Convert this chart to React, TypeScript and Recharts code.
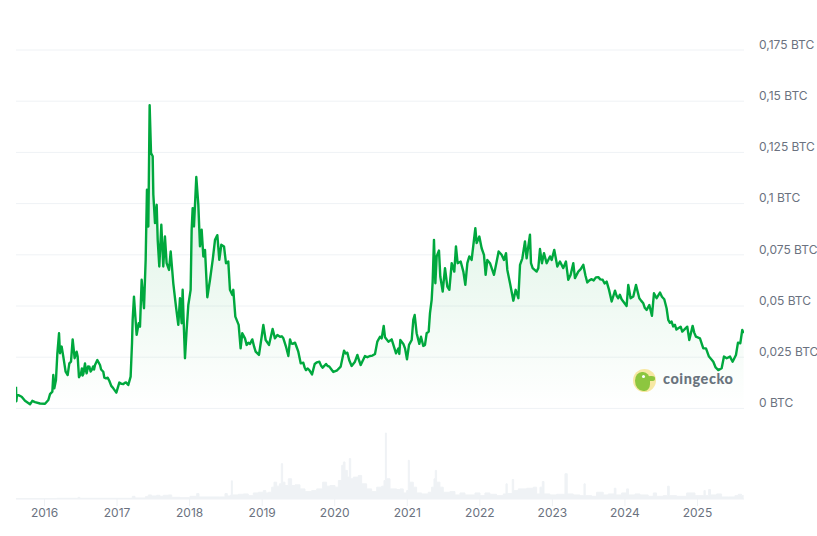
import React from 'react';
import { ComposedChart, AreaChart, Area, XAxis, YAxis, CartesianGrid } from 'recharts';

type P = [number, number];

const price2015to2016: P[] = [[2015.607,.0106],[2015.612,.0035],[2015.62,.0065],[2015.64,.0065],[2015.685,.0057],[2015.731,.0037],[2015.80,.0020],[2015.832,.0037],[2015.869,.0031],[2015.938,.0024],[2016.007,.0023],[2016.053,.0041],[2016.076,.0070],[2016.108,.0082],[2016.121,.0163],[2016.135,.0098],[2016.158,.0139],[2016.177,.0269],[2016.20,.0367],[2016.213,.0269],[2016.236,.0302],[2016.259,.0253],[2016.291,.0179],[2016.319,.0163],[2016.342,.0220],[2016.365,.0228],[2016.388,.0337],[2016.415,.0245],[2016.443,.0277],[2016.457,.0253],[2016.475,.0152],[2016.503,.0171],[2016.515,.0195],[2016.525,.0160],[2016.535,.0168],[2016.558,.0220],[2016.57,.0185],[2016.581,.0171],[2016.60,.0205],[2016.618,.0204],[2016.635,.0180],[2016.65,.0187],[2016.67,.0205],[2016.683,.0190],[2016.696,.0212],[2016.728,.0236],[2016.765,.0212],[2016.78,.0190],[2016.81,.0179],[2016.825,.0150],[2016.847,.0147],[2016.87,.0150],[2016.893,.0135],[2016.92,.0110],[2016.948,.0098],[2016.99,.0077]];
const price2017: P[] = [[2017.031,.0126],[2017.06,.0120],[2017.086,.0119],[2017.105,.0125],[2017.123,.0127],[2017.155,.0114],[2017.187,.0155],[2017.206,.0318],[2017.215,.0432],[2017.233,.0546],[2017.252,.0448],[2017.27,.0359],[2017.298,.0416],[2017.316,.0399],[2017.339,.0628],[2017.371,.0489],[2017.394,.0725],[2017.412,.1068],[2017.431,.0888],[2017.449,.148],[2017.468,.1247],[2017.491,.1231],[2017.50,.1043],[2017.523,.0905],[2017.546,.0994],[2017.56,.0823],[2017.582,.0693],[2017.61,.0897],[2017.637,.0693],[2017.66,.0839],[2017.683,.0709],[2017.716,.0676],[2017.739,.0766],[2017.775,.0611],[2017.812,.0497],[2017.844,.0408],[2017.867,.0538],[2017.89,.0416],[2017.904,.0579],[2017.922,.0383],[2017.936,.0245],[2017.959,.0383],[2017.982,.0505]];
const price2018: P[] = [[2018.014,.0579],[2018.028,.0872],[2018.042,.0978],[2018.06,.0888],[2018.092,.113],[2018.12,.0994],[2018.143,.0791],[2018.166,.0872],[2018.189,.0742],[2018.212,.0774],[2018.244,.0543],[2018.281,.0628],[2018.318,.0725],[2018.35,.0823],[2018.382,.0846],[2018.409,.0725],[2018.437,.0799],[2018.474,.0791],[2018.501,.0709],[2018.533,.0717],[2018.556,.0579],[2018.589,.0554],[2018.602,.0579],[2018.63,.0448],[2018.676,.0408],[2018.703,.0293],[2018.726,.0367],[2018.763,.0342],[2018.786,.031],[2018.81,.0320],[2018.832,.0315],[2018.864,.0337],[2018.89,.0300],[2018.91,.0277],[2018.956,.0261],[2018.993,.035]];
const price2019: P[] = [[2019.016,.0408],[2019.048,.0334],[2019.094,.031],[2019.144,.0388],[2019.176,.0342],[2019.21,.0358],[2019.246,.035],[2019.27,.0352],[2019.292,.0342],[2019.328,.0302],[2019.361,.0256],[2019.384,.0337],[2019.40,.0318],[2019.42,.0315],[2019.453,.0321],[2019.475,.0300],[2019.498,.0277],[2019.531,.022],[2019.567,.0223],[2019.585,.0200],[2019.604,.0187],[2019.625,.0195],[2019.65,.0187],[2019.687,.0166],[2019.724,.0217],[2019.755,.0225],[2019.788,.0228],[2019.81,.0210],[2019.834,.0199],[2019.88,.0217],[2019.90,.0208],[2019.926,.0204],[2019.955,.0190],[2019.981,.0178]];
const price2020: P[] = [[2020.027,.0184],[2020.082,.0204],[2020.128,.0282],[2020.15,.0268],[2020.174,.0272],[2020.20,.0235],[2020.233,.0207],[2020.279,.0228],[2020.312,.0261],[2020.335,.0235],[2020.358,.0212],[2020.417,.0256],[2020.45,.0250],[2020.486,.0256],[2020.52,.0258],[2020.555,.0266],[2020.587,.0326],[2020.624,.035],[2020.647,.0342],[2020.675,.0403],[2020.693,.0347],[2020.739,.0326],[2020.785,.0337],[2020.845,.0269],[2020.877,.0293],[2020.89,.0266],[2020.904,.0334],[2020.946,.0315],[2020.969,.0293],[2020.996,.024]];
const price2021: P[] = [[2021.024,.031],[2021.061,.0334],[2021.083,.0432],[2021.102,.0456],[2021.129,.0367],[2021.166,.0315],[2021.189,.035],[2021.221,.0305],[2021.244,.031],[2021.267,.0367],[2021.295,.0375],[2021.313,.0465],[2021.336,.053],[2021.35,.0619],[2021.368,.0823],[2021.387,.0611],[2021.405,.0742],[2021.437,.0771],[2021.455,.0644],[2021.488,.057],[2021.52,.0685],[2021.552,.0595],[2021.58,.0579],[2021.612,.0709],[2021.648,.0668],[2021.671,.0791],[2021.694,.0709],[2021.736,.0717],[2021.773,.0668],[2021.8,.0603],[2021.828,.0709],[2021.855,.0742],[2021.887,.0725],[2021.938,.088],[2021.956,.0807],[2021.993,.0839]];
const price2022: P[] = [[2022.025,.0782],[2022.057,.075],[2022.08,.0652],[2022.103,.0725],[2022.14,.0709],[2022.195,.0652],[2022.232,.0717],[2022.259,.0766],[2022.3,.075],[2022.333,.0725],[2022.361,.0758],[2022.379,.0676],[2022.416,.0611],[2022.462,.0526],[2022.494,.0579],[2022.531,.0538],[2022.554,.0701],[2022.586,.0733],[2022.622,.0815],[2022.645,.0733],[2022.691,.0848],[2022.705,.0709],[2022.728,.0685],[2022.783,.0668],[2022.806,.0685],[2022.829,.0778],[2022.856,.0709],[2022.884,.0758],[2022.921,.0709],[2022.967,.0742],[2022.99,.0725]];
const price2023: P[] = [[2023.026,.0774],[2023.068,.0693],[2023.104,.0717],[2023.15,.0685],[2023.187,.0717],[2023.219,.0628],[2023.251,.0652],[2023.288,.0709],[2023.311,.0636],[2023.357,.0668],[2023.39,.0680],[2023.426,.0701],[2023.455,.0650],[2023.481,.0615],[2023.51,.0625],[2023.541,.0631],[2023.57,.0625],[2023.60,.0640],[2023.633,.0641],[2023.66,.0630],[2023.693,.0628],[2023.72,.0610],[2023.748,.0619],[2023.78,.0580],[2023.817,.0522],[2023.863,.0575],[2023.885,.0550],[2023.908,.0538],[2023.93,.0555],[2023.954,.0533],[2023.977,.0522]];
const price2024: P[] = [[2024.023,.05],[2024.046,.0603],[2024.078,.0538],[2024.115,.0546],[2024.152,.0603],[2024.198,.0538],[2024.225,.0525],[2024.253,.0513],[2024.275,.0490],[2024.299,.0481],[2024.336,.0505],[2024.372,.0452],[2024.4,.0562],[2024.437,.0538],[2024.483,.0566],[2024.51,.0545],[2024.542,.0533],[2024.574,.0489],[2024.597,.0432],[2024.62,.0418],[2024.643,.0424],[2024.665,.0400],[2024.689,.0408],[2024.71,.0385],[2024.735,.0391],[2024.768,.0399],[2024.79,.0375],[2024.814,.0383],[2024.859,.0399],[2024.887,.0334],[2024.933,.0403],[2024.955,.0370],[2024.979,.035]];
const price2025: P[] = [[2025.034,.0342],[2025.08,.0293],[2025.117,.0293],[2025.158,.0253],[2025.19,.0240],[2025.218,.0228],[2025.25,.0200],[2025.287,.0187],[2025.333,.0196],[2025.365,.0253],[2025.402,.0245],[2025.448,.0253],[2025.484,.0228],[2025.53,.0261],[2025.558,.0321],[2025.59,.0318],[2025.617,.0383],[2025.636,.0367]];

const volumeEarly: P[] = [[2015.607,1],[2016.167,2],[2016.44,2],[2016.463,5],[2016.486,2],[2017.178,2],[2017.21,8],[2017.247,3],[2017.316,3],[2017.39,7],[2017.43,12],[2017.476,9],[2017.546,11],[2017.59,8],[2017.637,11],[2017.706,12],[2017.753,5],[2017.867,4],[2018.005,8],[2018.097,16],[2018.129,6],[2018.281,6],[2018.418,6],[2018.487,16],[2018.519,9],[2018.566,12],[2018.575,54],[2018.589,12],[2018.671,14],[2018.74,15],[2018.809,10],[2018.878,18],[2018.947,20]];
const volumeMiddle: P[] = [[2019.016,25],[2019.05,18],[2019.085,20],[2019.131,35],[2019.163,50],[2019.2,38],[2019.237,45],[2019.264,105],[2019.282,50],[2019.314,40],[2019.36,60],[2019.406,40],[2019.452,42],[2019.521,30],[2019.59,22],[2019.682,25],[2019.751,30],[2019.833,50],[2019.888,38],[2019.934,40],[2020.004,35],[2020.05,55],[2020.096,100],[2020.119,110],[2020.142,85],[2020.174,65],[2020.201,120],[2020.22,60],[2020.256,65],[2020.325,70],[2020.371,45],[2020.44,30],[2020.509,22],[2020.578,35],[2020.647,38],[2020.679,55],[2020.698,196],[2020.712,60],[2020.762,30],[2020.854,28],[2020.899,30],[2020.945,18],[2020.991,25],[2021.014,115],[2021.028,50],[2021.083,35],[2021.129,18],[2021.198,15],[2021.289,20],[2021.335,35],[2021.368,60],[2021.386,85],[2021.404,50],[2021.45,35],[2021.496,20],[2021.588,22],[2021.657,12],[2021.726,18],[2021.795,12],[2021.933,18]];
const volumeLate: P[] = [[2022.002,10],[2022.07,18],[2022.139,14],[2022.231,10],[2022.323,15],[2022.36,45],[2022.378,16],[2022.447,58],[2022.466,25],[2022.53,30],[2022.645,32],[2022.737,35],[2022.783,15],[2022.829,35],[2022.861,52],[2022.884,15],[2022.966,12],[2023.058,14],[2023.15,14],[2023.173,75],[2023.205,15],[2023.288,12],[2023.38,10],[2023.435,45],[2023.453,10],[2023.541,8],[2023.609,20],[2023.701,12],[2023.77,15],[2023.853,32],[2023.876,12],[2023.954,18],[2024.023,30],[2024.05,12],[2024.138,15],[2024.207,12],[2024.321,8],[2024.391,18],[2024.436,8],[2024.528,10],[2024.588,38],[2024.611,10],[2024.712,8],[2024.85,18],[2024.965,10],[2025.089,25],[2025.107,10],[2025.153,28],[2025.18,12],[2025.263,15],[2025.332,6],[2025.424,6],[2025.516,10],[2025.562,14],[2025.608,10],[2025.636,10]];

const priceTicks = [0, 0.025, 0.05, 0.075, 0.1, 0.125, 0.15, 0.175];
const priceLabels = ['0 BTC', '0,025 BTC', '0,05 BTC', '0,075 BTC', '0,1 BTC', '0,125 BTC', '0,15 BTC', '0,175 BTC'];
const yearTicks = [2016, 2017, 2018, 2019, 2020, 2021, 2022, 2023, 2024, 2025];

const priceData = [...price2015to2016, ...price2017, ...price2018, ...price2019, ...price2020, ...price2021, ...price2022, ...price2023, ...price2024, ...price2025].map(([t, price]) => ({ t, price }));
const volumeData = [...volumeEarly, ...volumeMiddle, ...volumeLate].map(([t, volume]) => ({ t, volume }));

const timeDomain: [number, number] = [2015.607, 2025.641];
const FONT = 'Inter, sans-serif';
const TEXT = '#6b7280';
const GRID = '#eff2f5';
const GREEN = '#00a83e';

const layer: React.CSSProperties = { position: 'absolute', left: 0 };

export default function App() {
  return (
    <div style={{ position: 'absolute', left: 0, top: 0, width: 817, height: 536, background: '#fff', overflow: 'hidden' }}>
      <div style={{ ...layer, top: 0 }}>
        <ComposedChart width={817} height={425} data={priceData} margin={{ top: 50, right: 0, bottom: 16.6, left: 16 }}>
          <defs>
            <linearGradient id="priceFill" x1="0" y1="0" x2="0" y2="1">
              <stop offset="0%" stopColor={GREEN} stopOpacity={0.3} />
              <stop offset="100%" stopColor={GREEN} stopOpacity={0} />
            </linearGradient>
          </defs>
          <CartesianGrid horizontal vertical={false} stroke={GRID} strokeWidth={1} />
          <XAxis dataKey="t" type="number" domain={timeDomain} allowDataOverflow hide />
          <YAxis
            orientation="right"
            width={73}
            domain={[0, 0.175]}
            ticks={priceTicks}
            interval={0}
            axisLine={false}
            tickLine={false}
            tickMargin={9}
            tickFormatter={(v: number) => priceLabels[priceTicks.indexOf(v)]}
            tick={{ fill: TEXT, fontSize: 12, fontFamily: FONT, dy: -5.5, textAnchor: 'start' }}
          />
          <Area type="linear" dataKey="price" stroke={GREEN} strokeWidth={2.4} strokeLinejoin="round" fill="url(#priceFill)" isAnimationActive={false} dot={false} activeDot={false} />
        </ComposedChart>
      </div>
      <div style={{ ...layer, top: 430 }}>
        <AreaChart width={817} height={100} data={volumeData} margin={{ top: 3, right: 73, bottom: 0, left: 16 }}>
          <XAxis
            dataKey="t"
            type="number"
            domain={timeDomain}
            allowDataOverflow
            ticks={yearTicks}
            interval={0}
            height={31}
            axisLine={{ stroke: GRID }}
            tickLine={{ stroke: GRID }}
            tickSize={7}
            tickMargin={2}
            tick={{ fill: TEXT, fontSize: 12, fontFamily: FONT }}
            tickFormatter={(v: number) => String(v)}
          />
          <YAxis hide domain={[0, 196]} />
          <Area type="stepAfter" dataKey="volume" stroke={GRID} strokeWidth={1} fill={GRID} fillOpacity={1} isAnimationActive={false} dot={false} activeDot={false} />
        </AreaChart>
      </div>
      <div style={{ ...layer, left: 633, top: 369, width: 23, height: 23, borderRadius: '50%', background: '#f7e8a3', overflow: 'hidden' }}>
        <div style={{ position: 'absolute', left: 2, top: 3, width: 15, height: 19, borderRadius: '50% 50% 40% 60%', background: '#8dc63f' }} />
        <div style={{ position: 'absolute', left: 14, top: 7, width: 8, height: 5, borderRadius: '40%', background: '#8dc63f' }} />
        <div style={{ position: 'absolute', left: 9, top: 6, width: 3, height: 3, borderRadius: '50%', background: '#fff' }} />
      </div>
      <div style={{ ...layer, left: 663, top: 370, fontFamily: 'Lato, sans-serif', fontWeight: 900, fontSize: 14.5, lineHeight: '18px', color: '#69737d', letterSpacing: 0.55 }}>coingecko</div>
    </div>
  );
}
